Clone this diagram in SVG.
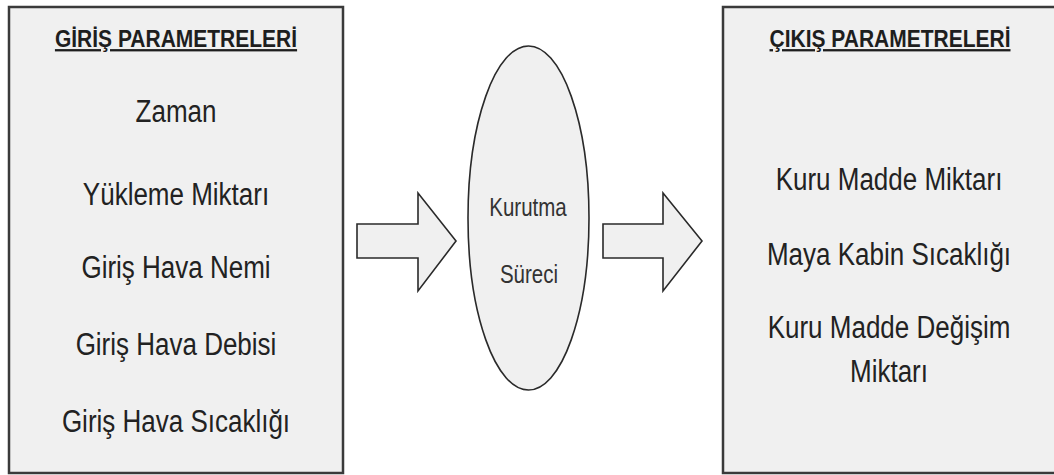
<svg xmlns="http://www.w3.org/2000/svg" width="1054" height="475" viewBox="0 0 1054 475">
  <style>
    .panel { fill: #f0f0f0; stroke: #3a3a3a; stroke-width: 2.5; }
    .shape { fill: #f0f0f0; stroke: #2a2a2a; stroke-width: 1.6; }
    .head { font-family: "Liberation Sans", Arial, sans-serif; font-weight: bold; font-size: 21px; fill: #1e1e1e; text-anchor: middle; text-decoration: underline; }
    .item { font-family: "Liberation Sans", Arial, sans-serif; font-size: 26px; fill: #222; text-anchor: middle; }
    .proc { font-family: "Liberation Sans", Arial, sans-serif; font-size: 20.5px; fill: #333; text-anchor: middle; }
  </style>
  <rect width="1054" height="475" fill="#ffffff"/>

  <!-- input parameters panel -->
  <g id="inputs">
    <rect class="panel" x="9" y="7" width="334" height="466"/>
    <text class="head" transform="translate(176,47) scale(1,1.1)">GİRİŞ PARAMETRELERİ</text>
    <text class="item" transform="translate(176,122) scale(1,1.2)">Zaman</text>
    <text class="item" transform="translate(176,205) scale(1,1.2)">Yükleme Miktarı</text>
    <text class="item" transform="translate(176,278) scale(1,1.2)">Giriş Hava Nemi</text>
    <text class="item" transform="translate(176,355) scale(1,1.2)">Giriş Hava Debisi</text>
    <text class="item" transform="translate(176,432) scale(1,1.2)">Giriş Hava Sıcaklığı</text>
  </g>

  <!-- drying process -->
  <g id="process">
    <ellipse class="shape" cx="528.5" cy="218" rx="60.5" ry="172"/>
    <text class="proc" transform="translate(528,216) scale(1,1.3)">Kurutma</text>
    <text class="proc" transform="translate(529,283) scale(1,1.3)">Süreci</text>
  </g>

  <!-- output parameters panel -->
  <g id="outputs">
    <rect class="panel" x="723" y="7" width="334" height="466"/>
    <text class="head" transform="translate(890,47) scale(1,1.1)">ÇIKIŞ PARAMETRELERİ</text>
    <text class="item" transform="translate(889,190) scale(1,1.2)">Kuru Madde Miktarı</text>
    <text class="item" transform="translate(889,265) scale(1,1.2)">Maya Kabin Sıcaklığı</text>
    <text class="item" transform="translate(889,338) scale(1,1.2)">Kuru Madde Değişim</text>
    <text class="item" transform="translate(889,382) scale(1,1.2)">Miktarı</text>
  </g>

  <!-- block arrows between the stages -->
  <g id="connectors">
    <polygon class="shape" points="357,224 418,224 418,193 456,241 418,291 418,258 357,258"/>
    <polygon class="shape" points="603,224 663,224 663,193 702,241 663,291 663,258 603,258"/>
  </g>
</svg>
